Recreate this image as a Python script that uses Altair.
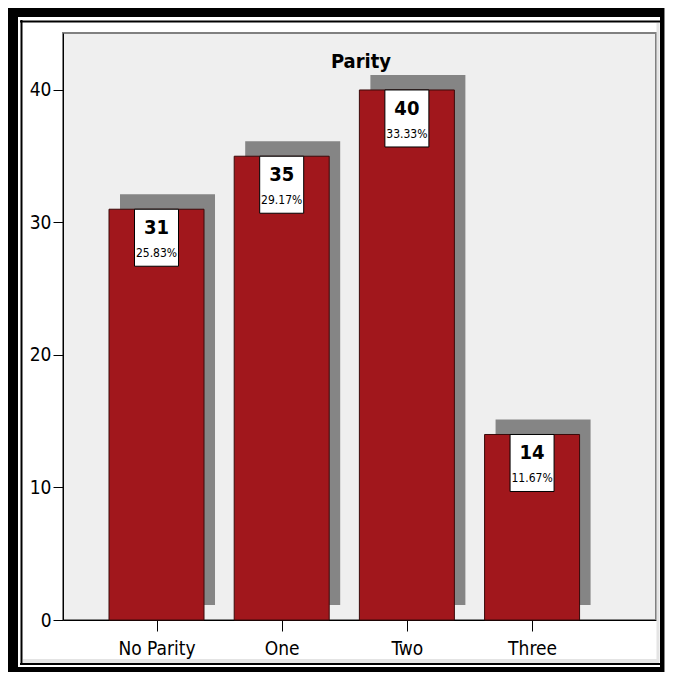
import altair as alt
import pandas as pd

categories = ["No Parity", "One", "Two", "Three"]
counts = [31, 35, 40, 14]
percents = ["25.83%", "29.17%", "33.33%", "11.67%"]
title_text = "Parity"

df = pd.DataFrame({
    "idx": list(range(len(categories))),
    "cat": categories,
    "count": counts,
    "pct": percents,
})

NARROW = "DejaVu Sans Condensed, Liberation Sans Narrow, Arial Narrow, sans-serif"
label_expr = "[" + ",".join("'" + c + "'" for c in categories) + "][datum.value]"

xs = alt.Scale(domain=[-0.707, 3.950], nice=False, zero=False)
ys = alt.Scale(domain=[0, 44.3], nice=False)

X = alt.X("idx:Q", scale=xs, title=None,
          axis=alt.Axis(values=[0, 1, 2, 3], labelExpr=label_expr, grid=False,
                        tickSize=11, tickColor="black", domainColor="black",
                        labelFontSize=19, labelFont=NARROW, labelColor="black",
                        labelPadding=8))
Y = alt.Y("count:Q", scale=ys, title=None,
          axis=alt.Axis(values=[0, 10, 20, 30, 40], grid=False, tickSize=10,
                        tickColor="black", domainColor="black",
                        labelFontSize=19, labelFont=NARROW, labelColor="black",
                        labelPadding=2))

base = alt.Chart(df)

shadow = base.mark_bar(size=95, color="#858585", xOffset=11, yOffset=-15,
                       y2Offset=-15).encode(x=X, y=Y)
bars = base.mark_bar(size=95, color="#a1171c", stroke="#3a0a0a",
                     strokeWidth=1).encode(x=X, y=Y)
boxes = base.mark_bar(size=44, color="white", stroke="black", strokeWidth=1,
                      y2Offset=57).encode(x=X, y=Y, y2="count:Q")
cnt_text = base.mark_text(dy=19, baseline="middle", fontSize=20, fontWeight="bold",
                          font=NARROW, color="black").encode(x=X, y=Y, text="count:Q")
pct_text = base.mark_text(dy=44, baseline="middle", fontSize=12, font=NARROW,
                          color="black").encode(x=X, y=Y, text="pct:N")

one = pd.DataFrame({"k": [0], "t": [title_text]})

title = alt.Chart(one).mark_text(fontSize=20, fontWeight="bold", font=NARROW,
                                 color="black", baseline="alphabetic",
                                 align="center").encode(
    x=alt.value(298), y=alt.value(35), text="t:N")

def rule(x1, y1, x2, y2, w, c="black"):
    return alt.Chart(one).mark_rule(strokeWidth=w, color=c).encode(
        x=alt.value(x1), y=alt.value(y1), x2=alt.value(x2), y2=alt.value(y2))

# decorative frame, in pixels relative to the plot origin
frame = [
    rule(-40, 628, 596, 628, 4, "#e4e4e4"),
    rule(595, -10, 595, 629, 3, "#e4e4e4"),
    rule(-55, -21, 602, -21, 10),          # top thick
    rule(-50.5, -25, -50.5, 639, 11),      # left thick
    rule(599, -25, 599, 639, 4),           # right thick
    rule(-55, 636.5, 602, 636.5, 5),       # bottom thick
    rule(-41.5, -13, -41.5, 632, 2),       # inner left
    rule(-43, -11.5, 598, -11.5, 2),       # inner top
    rule(-43, 631, 598, 631, 2),           # inner bottom
    rule(601.5, -25, 601.5, 639, 1, "#888888"),
]

chart = alt.layer(*frame, shadow, bars, boxes, cnt_text, pct_text, title).properties(
    width=593, height=587,
    autosize=alt.AutoSizeParams(type="none"),
    padding={"left": 55, "top": 25, "right": 9, "bottom": 52},
    background="white",
).configure_view(fill="#efefef", stroke="#808080", strokeWidth=2)

chart.save("out.html", embed_options={"renderer": "svg", "actions": False})
